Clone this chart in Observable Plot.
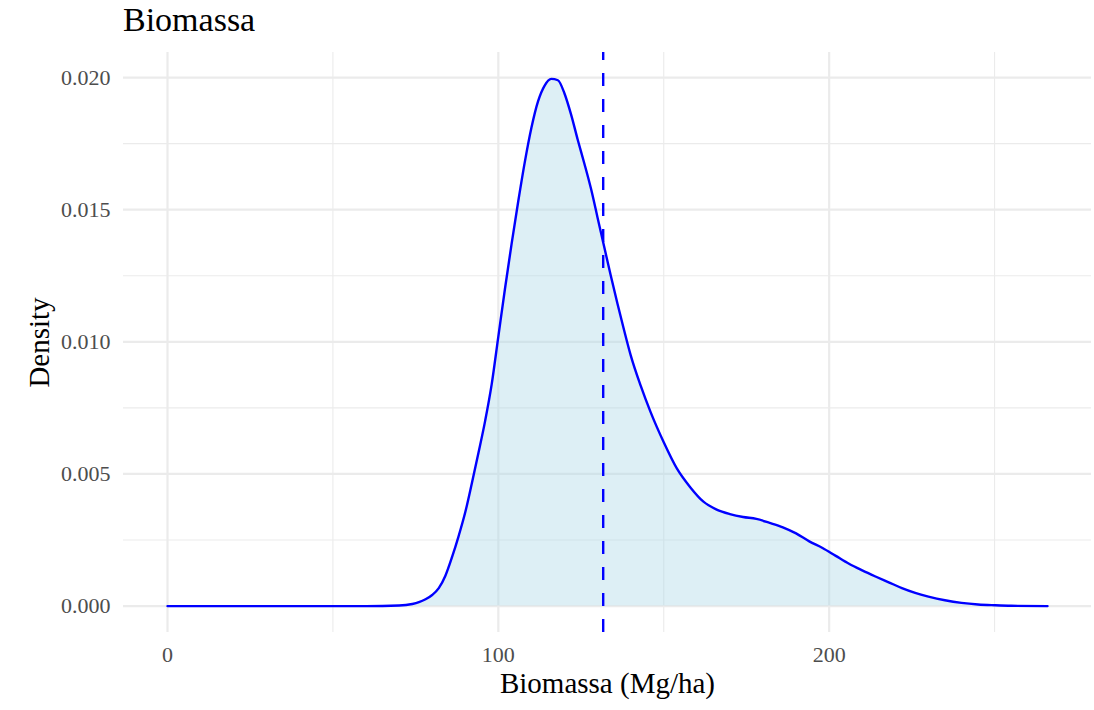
<!DOCTYPE html>
<html>
<head>
<meta charset="utf-8">
<script src="https://cdn.jsdelivr.net/npm/d3@7"></script>
<script src="https://cdn.jsdelivr.net/npm/@observablehq/plot@0.6"></script>
<style>
  body { margin: 0; background: #fff; }
  #title { font-family: "Liberation Serif", serif; font-size: 34px; line-height: 40px; height: 44px; padding-left: 123px; color: #000; }
</style>
</head>
<body>
<div id="title">Biomassa</div>
<div id="chart"></div>
<script>
const biomass = [0, 60, 70, 74, 76, 78, 80, 82, 84, 86, 88, 90, 92, 94, 96, 98, 100, 102, 104, 106, 108, 110, 112, 114, 116, 118, 120, 122, 124, 126, 128, 130, 132, 134, 136, 138, 140, 143, 146, 150, 154, 158, 162, 166, 170, 174, 178, 182, 186, 190, 194, 198, 202, 206, 210, 214, 218, 222, 226, 230, 235, 240, 245, 250, 255, 266];
const densityMilli = [0, 0, 0.02, 0.08, 0.15, 0.26, 0.42, 0.68, 1.15, 1.85, 2.65, 3.55, 4.65, 5.8, 7.0, 8.4, 10.2, 12.0, 13.7, 15.3, 16.8, 18.1, 19.1, 19.7, 19.95, 19.9, 19.4, 18.6, 17.65, 16.75, 15.8, 14.7, 13.6, 12.5, 11.45, 10.45, 9.5, 8.35, 7.35, 6.2, 5.2, 4.5, 3.95, 3.65, 3.48, 3.37, 3.3, 3.15, 2.98, 2.75, 2.45, 2.2, 1.9, 1.6, 1.35, 1.12, 0.9, 0.68, 0.5, 0.36, 0.22, 0.12, 0.06, 0.03, 0.01, 0];
const meanBiomass = [131.7];
const xMajor = [0, 100, 200];
const xMinor = [50, 150, 250];
const yMajor = [0, 0.005, 0.010, 0.015, 0.020];
const yMinor = [0.0025, 0.0075, 0.0125, 0.0175];
const xTitle = "Biomassa (Mg/ha)";
const yTitle = "Density";

const rows = biomass.map((x, i) => ({x, d: densityMilli[i] / 1000}));
const yDomain = [-0.001, 0.02095];

const chart = Plot.plot({
  width: 1094,
  height: 666,
  marginTop: 8,
  marginBottom: 78,
  marginLeft: 123,
  marginRight: 3,
  style: {fontFamily: "Liberation Serif, serif", background: "#fff"},
  x: {domain: [-13.3, 279.3]},
  y: {domain: yDomain},
  marks: [
    Plot.ruleX(xMinor, {stroke: "#ebebeb", strokeWidth: 1.1}),
    Plot.ruleY(yMinor, {stroke: "#ebebeb", strokeWidth: 1.1}),
    Plot.ruleX(xMajor, {stroke: "#ebebeb", strokeWidth: 2.2}),
    Plot.ruleY(yMajor, {stroke: "#ebebeb", strokeWidth: 2.2}),
    Plot.areaY(rows, {x: "x", y: "d", fill: "lightblue", fillOpacity: 0.42, curve: "monotone-x"}),
    Plot.line(rows, {x: "x", y: "d", stroke: "blue", strokeWidth: 2.4, curve: "monotone-x"}),
    Plot.ruleX(meanBiomass, {y1: yDomain[0], y2: yDomain[1], stroke: "blue", strokeWidth: 2.4, strokeDasharray: "13,13"}),
    Plot.axisX(xMajor, {tickSize: 0, tickPadding: 14, fontSize: 22, fill: "#4d4d4d", label: null}),
    Plot.axisY(yMajor, {tickSize: 0, tickPadding: 13, fontSize: 22, fill: "#4d4d4d", tickFormat: d3.format(".3f"), label: null}),
    Plot.text([xTitle], {frameAnchor: "bottom", lineAnchor: "middle", textAnchor: "middle", dy: 51, fontSize: 29, fill: "#000"}),
    Plot.text([yTitle], {frameAnchor: "left", lineAnchor: "middle", textAnchor: "middle", dx: -84, rotate: -90, fontSize: 29, fill: "#000"})
  ]
});
document.getElementById("chart").appendChild(chart);
</script>
</body>
</html>
